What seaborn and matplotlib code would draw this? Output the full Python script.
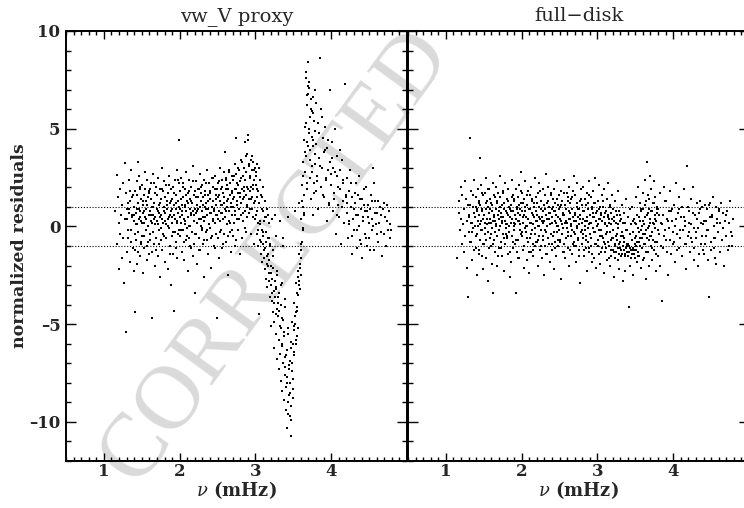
import matplotlib
matplotlib.use("Agg")
import numpy as np
import pandas as pd
import seaborn as sns
import matplotlib.pyplot as plt
from matplotlib.ticker import MultipleLocator, FixedLocator, FuncFormatter

# Mode frequencies (mHz), shared by both fits -- first mode set
nu_mhz = [
    1.152, 1.168, 1.175, 1.186, 1.193, 1.204, 1.212, 1.219, 1.228, 1.236,
    1.243, 1.251, 1.258, 1.266, 1.274, 1.281, 1.289, 1.296, 1.303, 1.311,
    1.318, 1.326, 1.333, 1.341, 1.349, 1.356, 1.364, 1.372, 1.381, 1.392,
    1.401, 1.405, 1.410, 1.416, 1.420, 1.425, 1.431, 1.436, 1.440, 1.446,
    1.451, 1.455, 1.460, 1.466, 1.471, 1.475, 1.480, 1.486, 1.490, 1.495,
    1.501, 1.505, 1.510, 1.515, 1.521, 1.525, 1.530, 1.535, 1.540, 1.546,
    1.550, 1.555, 1.561, 1.565, 1.570, 1.576, 1.580, 1.585, 1.590, 1.596,
    1.600, 1.605, 1.611, 1.615, 1.620, 1.625, 1.631, 1.635, 1.640, 1.646,
    1.650, 1.655, 1.660, 1.666, 1.670, 1.675, 1.681, 1.685, 1.690, 1.695,
    1.701, 1.705, 1.710, 1.716, 1.720, 1.725, 1.730, 1.736, 1.740, 1.745,
    1.751, 1.755, 1.760, 1.766, 1.770, 1.775, 1.780, 1.786, 1.790, 1.795,
    1.800, 1.806, 1.810, 1.815, 1.821, 1.825, 1.830, 1.835, 1.841, 1.845,
    1.850, 1.856, 1.860, 1.865, 1.870, 1.876, 1.880, 1.885, 1.891, 1.895,
    1.900, 1.905, 1.911, 1.915, 1.920, 1.926, 1.930, 1.935, 1.940, 1.946,
    1.950, 1.955, 1.961, 1.965, 1.970, 1.975, 1.981, 1.985, 1.990, 1.996,
    2.001, 2.006, 2.010, 2.015, 2.021, 2.025, 2.030, 2.036, 2.040, 2.045,
    2.050, 2.055, 2.061, 2.065, 2.070, 2.076, 2.080, 2.085, 2.090, 2.095,
    2.100, 2.106, 2.110, 2.115, 2.121, 2.125, 2.130, 2.135, 2.141, 2.145,
    2.150, 2.155, 2.160, 2.166, 2.170, 2.175, 2.181, 2.185, 2.190, 2.195,
    2.200, 2.205, 2.211, 2.215, 2.220, 2.226, 2.230, 2.235, 2.240, 2.245,
    2.250, 2.256, 2.260, 2.265, 2.271, 2.275, 2.280, 2.285, 2.291, 2.295,
    2.300, 2.305, 2.310, 2.316, 2.320, 2.325, 2.331, 2.335, 2.340, 2.345,
    2.350, 2.355, 2.361, 2.365, 2.370, 2.376, 2.380, 2.385, 2.390, 2.395,
    2.400, 2.406, 2.410, 2.415, 2.421, 2.425, 2.430, 2.435, 2.441, 2.445,
    2.450, 2.455, 2.460, 2.466, 2.470, 2.475, 2.481, 2.485, 2.490, 2.495,
    2.500, 2.505, 2.511, 2.515, 2.520, 2.526, 2.530, 2.535, 2.540, 2.545,
    2.550, 2.556, 2.560, 2.565, 2.571, 2.575, 2.580, 2.585, 2.591, 2.595,
    2.600, 2.605, 2.610, 2.616, 2.620, 2.625, 2.631, 2.635, 2.640, 2.645,
    2.650, 2.655, 2.661, 2.665, 2.670, 2.676, 2.680, 2.685, 2.690, 2.695,
    2.700, 2.706, 2.710, 2.715, 2.721, 2.725, 2.730, 2.735, 2.741, 2.745,
    2.750, 2.755, 2.760, 2.766, 2.770, 2.775, 2.781, 2.785, 2.790, 2.795,
    2.800, 2.805, 2.811, 2.815, 2.820, 2.826, 2.830, 2.835, 2.840, 2.845,
    2.850, 2.856, 2.860, 2.865, 2.871, 2.875, 2.880, 2.885, 2.891, 2.895,
    2.900, 2.905, 2.910, 2.916, 2.920, 2.925, 2.931, 2.935, 2.940, 2.945,
    2.950, 2.955, 2.961, 2.965, 2.970, 2.976, 2.980, 2.985, 2.990, 2.996,
    3.001, 3.006, 3.010, 3.015, 3.021, 3.025, 3.030, 3.036, 3.040, 3.045,
    3.050, 3.055, 3.061, 3.065, 3.070, 3.075, 3.081, 3.085, 3.090, 3.095,
    3.100, 3.106, 3.110, 3.115, 3.120, 3.126, 3.130, 3.135, 3.141, 3.145,
    3.150, 3.155, 3.160, 3.166, 3.170, 3.175, 3.181, 3.185, 3.190, 3.195,
    3.200, 3.205, 3.211, 3.215, 3.220, 3.226, 3.230, 3.235, 3.240, 3.245,
    3.250, 3.256, 3.260, 3.265, 3.271, 3.275, 3.280, 3.285, 3.291, 3.295,
    3.300, 3.305, 3.310, 3.316, 3.320, 3.325, 3.331, 3.335, 3.340, 3.345,
    3.350, 3.355, 3.361, 3.365, 3.370, 3.376, 3.380, 3.385, 3.390, 3.395,
    3.400, 3.405, 3.410, 3.415, 3.421, 3.425, 3.430, 3.436, 3.440, 3.445,
    3.450, 3.456, 3.460, 3.465, 3.470, 3.475, 3.481, 3.485, 3.490, 3.495,
    3.500, 3.505, 3.511, 3.515, 3.520, 3.526, 3.530, 3.535, 3.540, 3.545,
    3.550, 3.555, 3.560, 3.566, 3.570, 3.575, 3.581, 3.585, 3.590, 3.595,
    3.600, 3.606, 3.610, 3.615, 3.621, 3.625, 3.630, 3.635, 3.641, 3.645,
    3.650, 3.655, 3.661, 3.665, 3.670, 3.676, 3.680, 3.685, 3.690, 3.695,
    3.700, 3.706, 3.710, 3.715, 3.721, 3.725, 3.730, 3.735, 3.741, 3.745,
    3.750, 3.756, 3.760, 3.765, 3.771, 3.775, 3.780, 3.785, 3.791, 3.795,
    3.802, 3.811, 3.819, 3.830, 3.838, 3.851, 3.859, 3.868, 3.880, 3.889,
    3.901, 3.909, 3.920, 3.928, 3.941, 3.950, 3.958, 3.969, 3.981, 3.990,
    4.003, 4.011, 4.022, 4.030, 4.041, 4.049, 4.060, 4.071, 4.079, 4.091,
    4.100, 4.112, 4.120, 4.131, 4.139, 4.150, 4.162, 4.170, 4.181, 4.190,
    4.202, 4.210, 4.221, 4.232, 4.240, 4.251, 4.259, 4.271, 4.280, 4.291,
    4.300, 4.312, 4.321, 4.329, 4.341, 4.350, 4.361, 4.369, 4.380, 4.392,
    4.401, 4.410, 4.422, 4.431, 4.440, 4.452, 4.460, 4.471, 4.480, 4.491,
    4.502, 4.511, 4.520, 4.532, 4.541, 4.550, 4.561, 4.569, 4.580, 4.590,
    4.603, 4.611, 4.622, 4.630, 4.642, 4.651, 4.660, 4.672, 4.681, 4.690,
    4.703, 4.712, 4.721, 4.733, 4.741, 4.752, 4.760, 4.771, 4.780, 4.789,
]

# second mode set (mHz)
nu_mhz_b = [
    1.303, 1.312, 1.324, 1.333, 1.345, 1.353, 1.366, 1.374, 1.385, 1.397,
    1.403, 1.414, 1.423, 1.435, 1.443, 1.456, 1.464, 1.477, 1.483, 1.494,
    1.507, 1.513, 1.527, 1.534, 1.542, 1.557, 1.563, 1.574, 1.587, 1.593,
    1.604, 1.617, 1.623, 1.636, 1.644, 1.653, 1.667, 1.672, 1.684, 1.697,
    1.703, 1.714, 1.727, 1.733, 1.746, 1.752, 1.764, 1.773, 1.787, 1.794,
    1.806, 1.813, 1.824, 1.837, 1.843, 1.854, 1.867, 1.873, 1.884, 1.896,
    1.904, 1.916, 1.923, 1.934, 1.947, 1.953, 1.964, 1.976, 1.983, 1.994,
    2.007, 2.013, 2.024, 2.036, 2.043, 2.057, 2.064, 2.073, 2.086, 2.093,
    2.104, 2.117, 2.123, 2.134, 2.146, 2.153, 2.167, 2.174, 2.183, 2.196,
    2.203, 2.214, 2.227, 2.233, 2.244, 2.256, 2.263, 2.277, 2.284, 2.293,
    2.306, 2.313, 2.324, 2.337, 2.343, 2.354, 2.366, 2.373, 2.387, 2.394,
    2.404, 2.417, 2.423, 2.436, 2.444, 2.453, 2.467, 2.474, 2.483, 2.497,
    2.503, 2.516, 2.524, 2.533, 2.547, 2.554, 2.563, 2.576, 2.584, 2.593,
    2.607, 2.614, 2.623, 2.636, 2.643, 2.657, 2.664, 2.673, 2.687, 2.694,
    2.703, 2.716, 2.724, 2.733, 2.747, 2.754, 2.763, 2.776, 2.784, 2.797,
    2.803, 2.814, 2.826, 2.833, 2.847, 2.853, 2.864, 2.877, 2.883, 2.894,
    2.907, 2.913, 2.926, 2.934, 2.943, 2.956, 2.963, 2.974, 2.986, 2.993,
    3.004, 3.016, 3.023, 3.037, 3.044, 3.053, 3.066, 3.074, 3.083, 3.097,
    3.103, 3.114, 3.127, 3.133, 3.146, 3.154, 3.163, 3.177, 3.184, 3.193,
    3.206, 3.213, 3.224, 3.237, 3.243, 3.254, 3.267, 3.273, 3.286, 3.294,
    3.303, 3.317, 3.324, 3.333, 3.346, 3.353, 3.364, 3.377, 3.384, 3.396,
    3.404, 3.413, 3.427, 3.434, 3.443, 3.456, 3.463, 3.474, 3.487, 3.493,
    3.506, 3.514, 3.523, 3.536, 3.544, 3.553, 3.567, 3.574, 3.583, 3.596,
    3.603, 3.617, 3.624, 3.633, 3.646, 3.654, 3.663, 3.677, 3.684, 3.693,
    3.707, 3.713, 3.726, 3.734, 3.743, 3.757, 3.764, 3.773, 3.786, 3.794,
    3.815, 3.834, 3.856, 3.874, 3.893, 3.915, 3.936, 3.954, 3.975, 3.996,
    4.016, 4.035, 4.054, 4.077, 4.095, 4.114, 4.136, 4.157, 4.175, 4.196,
    4.214, 4.237, 4.256, 4.275, 4.294, 4.316, 4.335, 4.357, 4.374, 4.396,
    4.415, 4.436, 4.454, 4.476, 4.497, 4.516, 4.535, 4.557, 4.576, 4.598,
]

# Normalized residuals of the fit to the vw_V proxy spectra (first mode set)
resid_vw = [
    0.8, 2.65, -0.9, 1.5, 0.2, -2.2, 1.9, -0.4, 0.6, -1.6,
    1.1, -0.6, 2.2, -2.9, 3.27, 0.4, -5.4, 1.7, -1.3, 0.9,
    -0.2, 2.4, 0.7, -1.8, 1.3, 2.9, -0.8, 0.5, 1.6, -2.3,
    0.6, -1.2, -4.4, 1.8, 0.1, -0.7, 2.3, 0.9, -1.9, 3.3,
    1.2, -0.3, 0.4, 2.6, -1.5, 0.8, 1.9, -0.9, 0.3, 1.4,
    -0.5, 2.1, 0.7, -2.4, 1.1, 0.2, 1.6, -1.1, 2.8, 0.5,
    1.3, -0.2, 0.9, -1.7, 2.4, 0.0, 1.5, -0.8, 0.6, 1.8,
    -1.4, 0.8, 1.9, -0.4, 0.3, 2.2, -1.3, 1.0, -4.7, 0.6,
    2.7, -0.9, 1.2, 0.4, -2.0, 1.7, 0.1, 2.0, -0.6, 0.9,
    0.3, 1.6, -1.5, 2.5, 0.8, -0.2, 1.1, -2.6, 1.9, 0.5,
    -0.7, 1.4, 0.6, 3.0, -1.2, 0.2, 1.8, -0.4, 1.0, 2.3,
    0.7, -1.8, 1.5, 0.1, 2.1, -0.6, 0.9, 1.3, -2.2, 0.4,
    1.7, -0.1, 2.6, 0.5, -1.0, 1.2, -3.0, 0.8, 1.9, -0.5,
    0.2, 1.4, -1.4, 2.0, 0.6, -4.3, 1.1, -0.3, 2.4, 0.9,
    -0.8, 1.6, 0.3, 2.9, -1.6, 0.7, 1.3, -0.2, 2.2, 4.4,
    0.9, -0.5, 1.8, 0.2, 2.5, -1.3, 1.1, 0.6, -0.2, 1.5,
    2.2, 0.4, -1.7, 1.0, 0.1, 1.9, -0.7, 2.8, 0.8, -0.1,
    1.3, -2.3, 0.5, 1.7, -0.6, 2.4, 0.9, 0.0, 1.4, -1.1,
    0.6, 2.0, -0.3, 1.2, 3.1, -1.5, 0.8, 1.6, -0.9, 0.3,
    1.8, -3.4, 0.7, 2.3, -0.4, 1.1, 0.2, -1.9, 1.5, 0.9,
    -0.6, 1.9, 0.4, 2.7, -1.2, 1.3, 0.0, 1.7, -0.2, 2.1,
    0.8, -0.9, 1.5, 0.3, 2.4, -2.6, 1.0, 0.5, 1.8, -0.3,
    1.2, 2.9, -0.7, 0.6, 1.6, -1.4, 0.9, 2.2, 0.1, 1.4,
    -0.1, 1.7, 0.7, -2.1, 2.5, 1.0, -0.5, 1.3, 0.4, 2.0,
    0.9, -1.0, 1.9, 0.2, 2.6, 1.1, -0.4, 1.6, -4.7, 0.6,
    1.5, -0.6, 2.2, 0.8, -1.6, 1.3, 3.0, 0.3, 1.9, -0.2,
    0.7, 2.4, 1.1, -1.1, 1.7, 0.4, 2.8, -0.4, 1.2, 3.8,
    0.5, 1.9, -0.8, 2.5, 1.0, 0.1, 2.1, -2.5, 1.4, 0.8,
    2.9, 0.3, 1.6, -0.3, 2.2, 1.2, -1.3, 1.8, 0.6, 2.6,
    1.0, -0.5, 2.4, 1.5, 0.2, 3.2, 0.8, -1.0, 1.9, 2.7,
    4.5, 1.3, 0.4, 2.1, -0.2, 1.7, 2.9, 0.9, -1.4, 1.5,
    2.3, 0.6, 3.4, 1.2, -0.6, 1.9, 2.6, 0.3, 1.4, 3.0,
    1.8, 4.3, 0.8, 2.4, -0.3, 1.6, 3.6, 1.1, 2.0, 0.5,
    4.7, 4.4, 1.4, 3.1, 0.7, 2.6, 1.8, 3.4, -0.4, 2.0,
    1.5, 2.9, 0.9, 3.3, 1.9, -0.9, 2.4, 1.2, 3.0, 0.4,
    2.1, 0.6, 2.8, -0.4, 1.5, 3.2, 0.2, 1.8, -1.0, -4.5,
    1.2, -0.7, 2.4, 0.1, -1.4, 1.6, -0.2, 0.9, -1.8, 2.0,
    -0.9, 0.8, -1.6, 0.3, -2.2, 1.3, -1.1, -0.3, -2.7, 0.5,
    -1.5, -3.1, 0.6, -2.0, -0.6, -2.8, 0.2, -1.7, -3.6, -0.9,
    -2.4, -5.1, -3.0, 0.4, -3.8, -2.1, -4.4, -1.2, -3.3, -6.2,
    -4.9, -2.8, -3.6, -0.5, -5.5, -3.1, -4.2, -6.8, -2.5, -3.9,
    -4.6, -7.3, -3.4, -5.8, 0.3, -6.5, -4.0, -7.9, -5.2, -2.9,
    -6.1, -8.4, -4.8, -7.0, -0.6, -5.6, -8.9, -6.7, -3.7, -7.6,
    -8.2, -9.4, -6.3, -7.7, -10.3, -5.5, -9.0, 0.5, -8.6, -7.1,
    -9.7, -6.9, -8.0, -5.9, -10.7, -9.2, -7.4, -4.9, -8.8, -6.0,
    -7.8, -5.3, -6.6, -3.9, -5.0, 0.8, -4.4, -6.0, -2.9, -5.6,
    -4.1, -2.3, -5.2, -3.5, -1.4, -2.8, 1.2, -3.2, -1.9, -2.5,
    -1.6, 0.4, -0.8, 2.1, 1.0, -0.2, 3.3, 1.6, 4.4, 0.7,
    2.8, 5.1, 7.6, 3.6, 7.9, 1.9, 6.2, 4.3, 7.2, 8.4,
    6.8, 4.8, 7.4, 2.5, 5.6, 3.9, 6.5, 1.4, 4.6, 5.9,
    3.1, 6.6, 4.1, 0.6, 5.4, 2.2, 7.0, 3.7, 4.9, 1.8,
    4.2, 2.6, 5.3, 0.9, 3.5, 8.6, 2.0, 6.0, 3.0, 4.5,
    1.5, 3.8, 5.1, 2.4, 0.3, 4.0, 2.9, 1.2, 7.0, 3.3,
    2.1, 4.3, 0.8, 3.0, 1.7, 5.0, -0.4, 2.6, 3.6, 1.1,
    0.5, 2.9, 1.9, -0.9, 3.4, 1.3, 2.2, 0.2, 7.3, 1.6,
    2.5, 0.7, -0.6, 1.8, 0.1, 2.9, 1.0, -1.4, 1.5, 0.4,
    -0.2, 1.2, 2.2, 0.6, -1.1, 1.6, 0.0, 2.6, -0.7, 0.9,
    1.4, -1.6, 0.3, 1.9, -0.4, 0.8, 2.0, -1.0, 0.5, 1.1,
    -0.6, 0.9, 1.6, -0.2, 0.4, 3.0, 2.2, -1.2, 1.3, 0.1,
    0.7, 1.3, -0.8, 0.2, 1.0, -0.3, 0.6, -1.5, 0.9, 1.2,
    -0.4, 0.5, -1.0, 1.1, 0.3, -0.2, 0.8, -0.6, 0.1, -0.2,
]

# vw_V proxy residuals (second mode set)
resid_vw_b = [
    0.4, 1.2, -0.6, 0.9, 1.8, -0.2, 0.6, 1.5, -1.1, 0.3,
    1.0, -0.4, 0.7, 1.6, 0.1, -1.3, 0.9, 2.0, 0.5, -0.8,
    0.2, 1.3, -0.5, 0.8, 1.9, 0.4, -1.0, 1.1, 0.0, 1.7,
    -0.7, 0.6, 1.4, 0.2, -0.3, 1.0, 2.2, 0.5, -1.2, 0.9,
    1.6, 0.1, -0.9, 0.7, 1.2, -0.1, 0.4, 1.9, 0.8, -0.5,
    0.3, 1.5, -0.6, 1.1, 0.0, 2.1, 0.6, -1.4, 1.3, 0.5,
    0.9, -0.3, 1.7, 0.4, -1.1, 1.2, 0.2, 2.4, -0.4, 1.0,
    0.5, 1.4, -0.2, 0.8, 2.0, -0.8, 1.1, 0.3, 1.6, -0.5,
    1.2, 0.0, 1.8, -1.0, 0.7, 1.3, -0.3, 2.3, 0.6, 0.9,
    -0.4, 1.5, 0.8, 0.2, 1.9, -1.2, 1.0, 0.4, 2.0, -0.1,
    1.1, 0.5, -0.7, 1.6, 0.9, 2.2, -0.2, 1.3, 0.1, 0.7,
    1.8, -0.6, 1.0, 0.3, 2.5, 0.8, -1.1, 1.4, 0.6, 1.9,
    0.4, 1.6, 2.3, -0.3, 1.1, 0.7, 2.0, -0.9, 1.5, 0.9,
    2.4, 0.8, 1.3, -0.5, 1.9, 2.8, 0.2, 1.0, 1.7, -0.2,
    1.4, 2.6, 0.6, 1.9, -0.7, 2.2, 1.1, 3.0, 0.4, 1.7,
    2.5, 1.2, 3.3, 0.7, 2.0, 1.5, -0.1, 2.8, 1.0, 3.7,
    1.9, 3.2, 0.9, 2.5, 1.4, 3.6, 0.5, 2.1, 2.9, 1.3,
    2.6, 0.8, 1.9, -0.2, 3.0, 1.2, 0.3, -0.8, 1.5, -0.5,
    -0.3, -1.2, 0.5, -0.8, -1.9, 0.9, -1.4, -2.4, -0.6, -1.0,
    -2.0, -3.4, -2.7, -1.5, -3.9, 0.6, -3.2, -4.5, -2.3, -3.6,
    -3.9, -4.3, -5.1, -3.0, -6.0, -4.7, -1.0, -5.4, -7.2, -4.1,
    -6.6, -8.0, -5.2, -9.6, -7.3, -8.5, -6.2, -9.9, -7.0, -8.3,
    -6.4, -5.1, -4.6, -5.8, -3.4, -4.3, -2.6, -3.0, -2.1, -1.2,
    -0.9, 1.3, -0.1, 2.6, 0.6, 3.8, 5.3, 2.2, 6.7, 4.1,
    5.0, 7.1, 3.4, 6.0, 2.8, 4.4, 5.8, 1.7, 3.2, 6.3,
    2.3, 4.8, 3.1, 5.6, 1.6, 3.9, 2.5, 4.4, 1.1, 2.7,
    3.5, 1.4, 2.8, 0.6, 2.0, 3.9, 1.0, 2.4, 0.2, 1.5,
    1.2, 0.3, 2.2, -0.5, 0.9, 1.7, -0.2, 0.6, 1.4, -0.9,
    0.5, 1.1, -0.6, 0.8, 0.2, -1.2, 1.3, 0.0, 0.7, -0.4,
]

# Normalized residuals of the fit to the full-disk spectra (first mode set)
resid_fd = [
    -1.6, 0.7, 1.3, -0.2, 2.0, 0.4, -0.9, 1.6, 0.1, -1.3,
    0.9, 2.3, -0.5, 1.4, -2.1, 0.3, -3.6, 1.1, -0.3, 0.6,
    4.5, -0.8, 1.8, 0.2, -1.7, 1.0, -0.1, 2.4, 0.5, -1.1,
    1.5, -0.4, 0.8, -2.5, 1.9, 0.0, 0.6, -1.2, 1.2, 3.5,
    -0.7, 1.1, 0.3, 2.1, -1.5, 0.9, -0.2, 1.6, 0.4, -2.2,
    0.6, -0.9, 1.7, 0.2, -0.4, 2.5, 0.9, -1.6, 0.1, 1.3,
    -0.3, 1.0, -2.8, 0.7, 1.9, -0.6, 0.4, 1.4, -1.0, 0.2,
    1.2, -0.1, 0.8, -1.9, 2.2, -3.4, 0.5, 1.6, -0.7, 0.3,
    -1.3, 0.9, 0.1, 2.0, -0.5, 1.3, -2.0, 0.6, 1.7, -0.2,
    0.4, -1.1, 1.5, 0.0, 2.6, -0.8, 0.7, -1.5, 1.1, 0.2,
    1.8, -0.4, 0.5, -2.3, 1.2, 0.3, -0.9, 2.2, 0.8, -0.1,
    -0.6, 1.4, 0.1, 1.9, -1.4, 0.6, -0.3, 1.0, -2.6, 0.9,
    0.5, -1.8, 1.1, 0.2, 2.4, -0.5, 0.8, -1.1, 1.6, 0.0,
    -0.2, 1.3, -0.9, 0.6, 1.9, -3.4, 0.4, -1.3, 1.0, 0.7,
    1.5, -0.7, 0.3, 2.1, -1.6, 0.9, 0.1, -0.4, 1.2, 2.8,
    -0.5, 0.8, 1.7, -1.2, 0.2, 1.4, -2.1, 0.6, -0.1, 1.0,
    2.3, -0.3, 0.5, -1.7, 1.1, 0.0, 1.8, -0.8, 0.4, -2.4,
    0.9, 1.6, -0.6, 0.2, 2.0, -1.3, 0.7, -0.2, 1.3, -0.9,
    0.1, -1.5, 1.2, 0.5, -0.4, 2.5, -1.0, 0.8, 0.3, 1.5,
    -0.8, 0.6, -2.0, 1.7, 0.0, -0.5, 1.0, 2.2, -1.2, 0.4,
    1.3, -0.2, 0.9, -1.6, 0.5, 1.9, -0.7, 0.2, -2.5, 1.1,
    0.3, -1.0, 1.6, -0.3, 2.7, 0.6, -1.4, 1.2, 0.0, -0.6,
    2.0, 0.4, -0.9, 1.0, -1.8, 0.7, 0.1, 1.7, -0.4, 0.9,
    -1.2, 0.2, 1.4, -0.5, 0.8, -2.2, 1.9, 0.3, -0.8, 1.2,
    0.6, -1.5, 0.0, 2.3, -0.3, 1.1, -1.0, 0.5, 1.6, -0.2,
    1.0, -0.7, 0.4, -2.7, 1.8, 0.1, -0.4, 1.3, 0.7, -1.3,
    -0.1, 2.4, -0.9, 0.6, 1.1, -1.6, 0.3, 0.9, -0.6, 1.7,
    0.2, -1.1, 1.5, -0.3, 0.8, 2.0, -2.0, 0.4, 1.2, -0.5,
    1.4, 0.0, -1.4, 0.9, -0.2, 1.8, 0.5, -0.8, 2.6, -1.0,
    -0.4, 0.7, 1.6, -1.8, 0.3, -0.1, 1.0, 2.2, -0.7, 0.5,
    0.9, -1.2, 0.1, 1.3, -2.9, 0.6, -0.3, 1.9, 0.2, -0.9,
    1.1, 0.4, -0.6, 2.0, -1.5, 0.8, 0.0, -0.2, 1.4, -1.1,
    -0.5, 1.7, 0.3, -2.3, 0.9, -0.8, 1.2, 0.1, -1.3, 2.3,
    0.6, -0.4, 1.5, -1.0, 0.2, 1.0, -1.8, 0.7, -0.1, 1.8,
    -1.6, 0.5, -0.3, 1.2, 2.5, -0.9, 0.3, -2.1, 0.8, 0.0,
    1.3, -0.7, 0.1, -1.4, 0.9, 2.1, -0.5, 0.4, -1.9, 0.7,
    -0.2, 1.6, -1.1, 0.3, -0.6, 1.0, -2.4, 0.5, 1.9, -0.9,
    0.2, -1.3, 0.8, -0.4, 1.4, -1.7, 0.0, 2.2, -0.8, 0.6,
    -1.0, 0.4, -2.0, 1.1, -0.3, 0.7, -1.5, 0.1, 1.6, -0.6,
    0.9, -1.2, -0.2, -2.6, 0.5, -0.9, 1.3, -1.6, 0.2, -0.5,
    -1.3, 0.6, -0.7, 1.8, -1.1, -0.1, -2.2, 0.8, -1.4, 0.3,
    -0.8, -1.2, 0.4, -1.5, -0.3, 1.1, -1.0, -2.8, -0.5, 0.7,
    -1.2, -0.6, -1.4, 0.2, -2.3, -1.1, 1.4, -0.9, -1.3, -0.2,
    -1.5, 0.5, -4.1, -1.0, -1.3, 0.9, -0.4, -2.0, -1.2, 0.1,
    -0.7, -1.4, 1.0, -1.1, -0.3, -2.5, -1.2, 0.4, -0.9, -1.6,
    0.2, -1.0, 1.5, -0.5, -1.8, 0.6, -1.3, -0.1, 2.0, -0.8,
    -1.5, 0.3, -0.6, 1.2, -2.1, -0.2, 0.8, -1.1, 0.0, 1.7,
    -0.4, 0.9, -1.6, 0.1, 2.4, -0.9, 0.5, -2.7, 1.3, -0.2,
    3.3, -0.6, 0.7, -1.3, 1.6, 0.0, -2.0, 0.9, -0.5, 2.6,
    0.4, -1.0, 1.9, -0.3, 0.8, -1.7, 1.2, -0.7, 2.3, 0.1,
    -1.2, 0.6, -0.1, 1.5, -2.3, 0.3, 1.0, -0.8, 0.7, -1.5,
    0.9, -0.4, 1.7, -2.0, 0.2, -3.8, 0.6, -1.1, 2.0, -0.2,
    1.3, -0.7, 0.4, -2.5, 0.8, -0.1, 1.8, -1.4, 0.3, 0.9,
    -0.9, 1.1, 0.0, -1.8, 2.2, -0.4, 0.7, -1.1, 1.5, -0.6,
    0.5, -1.5, 1.0, -0.2, 1.9, -0.9, 0.3, -2.2, 3.1, -0.5,
    0.8, -0.3, -1.3, 1.4, 0.1, -0.8, 2.0, -0.1, -1.7, 0.6,
    -0.6, 1.2, -0.1, -2.0, 0.7, 1.3, -0.9, 0.2, 1.0, -1.2,
    0.3, -1.4, 1.1, -0.5, 0.9, -0.2, -1.7, -3.6, 0.5, 1.2,
    -0.8, 0.6, 1.5, -1.1, 0.0, -0.6, 1.0, -1.9, 0.4, -0.3,
    0.9, -1.3, 0.2, 1.2, -0.7, -0.1, 0.7, -2.0, 0.3, 0.6,
    -0.5, 0.8, -1.2, 0.2, -1.0, 1.3, -0.3, -0.5, -1.0, 0.4,
]

# full-disk residuals (second mode set)
resid_fd_b = [
    0.5, -0.8, 1.1, 0.2, -0.3, 1.6, -1.2, 0.7, 0.0, 1.0,
    -0.5, 0.9, 0.3, -1.4, 1.3, 0.1, -0.2, 0.8, 1.7, -0.9,
    0.6, -0.1, 1.2, -0.7, 0.4, 1.9, -1.1, 0.2, 0.9, -0.4,
    1.1, 0.3, -0.9, 0.6, 1.5, -0.3, 0.0, 1.2, -1.5, 0.8,
    -0.2, 1.0, 0.5, -1.1, 0.3, 1.7, -0.6, 0.9, 0.1, -0.4,
    0.7, -0.5, 1.3, 0.0, -1.3, 0.8, 0.4, 1.5, -0.8, 0.2,
    1.4, 0.1, -0.7, 0.9, 0.3, -1.6, 1.1, -0.2, 0.6, 1.8,
    -0.3, 0.5, 1.2, -1.0, 0.8, 0.0, 1.6, -0.6, 0.4, -1.3,
    0.9, -0.4, 0.2, 1.4, -1.2, 0.6, 1.0, -0.1, -0.8, 0.3,
    1.2, -0.7, 0.5, 0.0, 1.8, -1.0, 0.3, 0.8, -0.5, 1.1,
    -0.2, 0.9, -1.4, 0.4, 1.3, -0.6, 0.7, 0.1, 1.6, -0.9,
    0.5, 1.0, -0.3, -1.1, 0.8, 0.2, 1.4, -0.7, 0.0, 0.9,
    -0.8, 0.3, 1.1, -0.4, 0.6, 1.7, -1.3, 0.2, 0.9, -0.1,
    1.3, -0.5, 0.4, -1.2, 0.7, 0.1, 1.5, -0.9, 0.3, -0.3,
    0.6, -1.0, 1.2, 0.0, -0.6, 0.9, -1.5, 0.4, 1.4, -0.2,
    -0.4, 0.8, -1.2, 0.3, 1.1, -0.7, 0.5, -0.1, 1.6, -1.1,
    0.2, -0.6, 0.9, -1.4, 0.5, 1.2, -0.3, -0.9, 0.7, 0.0,
    -1.0, 0.4, -0.2, 1.0, -1.3, 0.6, -0.5, 1.3, -0.8, 0.1,
    0.7, -1.1, -0.3, 0.5, -1.6, 0.2, 1.0, -0.7, -1.2, 0.4,
    -0.6, -1.3, 0.3, -1.0, 0.8, -0.4, -1.7, 0.1, -0.9, 0.6,
    -1.1, -0.5, -1.4, 0.2, -1.2, -0.8, -1.5, -0.2, -1.0, -1.3,
    -0.9, -1.3, -0.4, -1.1, -1.6, -0.7, -1.2, 0.3, -1.4, -0.6,
    -1.2, 0.1, -0.8, -1.5, 0.5, -0.3, -1.0, 0.9, -0.6, -1.7,
    0.3, -0.9, 1.1, -0.4, -1.3, 0.6, -0.1, 1.4, -0.7, 0.2,
    -0.5, 0.8, -1.1, 0.2, 1.2, -0.8, 0.4, -1.4, 0.9, -0.2,
    0.6, -1.0, 0.1, -0.5, 1.3, -1.3, 0.3, -0.7, 0.8, -0.3,
    -0.8, 0.4, -1.2, 0.9, -0.2, -1.5, 0.5, 0.0, -0.9, 1.0,
    0.2, -0.6, 0.7, -1.1, -0.3, 0.4, -1.4, 0.9, -0.5, 0.1,
    -0.9, 0.3, -0.2, 1.1, -1.2, 0.5, -0.6, -1.6, 0.2, 0.8,
]

panel_titles = ["vw_V proxy", "full\u2212disk"]
y_ticks = [-10, -5, 0, 5, 10]
x_ticks = [1, 2, 3, 4]
band_levels = [-1, 1]

nu_all = np.concatenate([nu_mhz, nu_mhz_b])
df = pd.DataFrame({
    "nu": np.concatenate([nu_all, nu_all]),
    "resid": np.concatenate([resid_vw, resid_vw_b, resid_fd, resid_fd_b]),
    "panel": [panel_titles[0]] * len(nu_all) + [panel_titles[1]] * len(nu_all),
})

sns.set_theme(style="ticks")
plt.rcParams["font.family"] = ["DejaVu Serif"]
plt.rcParams["mathtext.fontset"] = "dejavuserif"

W, H = 744, 508
fig = plt.figure(figsize=(W / 100, H / 100), dpi=100)
fig.patch.set_facecolor("white")

ax_w, ax_h = 341 / W, 430 / H
bottom = (H - 461) / H
axes = [fig.add_axes([66 / W, bottom, ax_w, ax_h]),
        fig.add_axes([408 / W, bottom, ax_w, ax_h])]

# faint diagonal stamp across the sheet, beneath the data
fig.text(276 / W, 1 - 256 / H, "CORRECTED", rotation=54, ha="center", va="center",
         rotation_mode="anchor", fontsize=65, color="#dadada",
         family="Liberation Serif", zorder=-5)

tick_fmt = FuncFormatter(lambda v, p: f"{int(round(v))}".replace("-", "\u2013"))

for ax, title in zip(axes, panel_titles):
    ax.set_facecolor("none")
    sub = df[df["panel"] == title]
    sns.scatterplot(data=sub, x="nu", y="resid", ax=ax, color="black",
                    marker="s", s=4.5, linewidth=0, legend=False, zorder=3)
    for lvl in band_levels:
        ax.axhline(lvl, color="black", lw=0.8, ls=(0, (1, 1.6)), zorder=2)
    ax.set_xlim(0.5, 5.0)
    ax.set_ylim(-12, 10)
    ax.xaxis.set_major_locator(FixedLocator(x_ticks))
    ax.xaxis.set_minor_locator(MultipleLocator(0.1))
    ax.yaxis.set_major_locator(FixedLocator(y_ticks))
    ax.yaxis.set_minor_locator(MultipleLocator(1))
    ax.yaxis.set_major_formatter(tick_fmt)
    ax.tick_params(which="both", direction="in", top=True, right=True,
                   color="black", width=1.0)
    ax.tick_params(axis="x", which="major", length=5.5, pad=1.5)
    ax.tick_params(axis="x", which="minor", length=3)
    ax.tick_params(axis="y", which="major", length=7.5, pad=4)
    ax.tick_params(axis="y", which="minor", length=3.8)
    for sp in ax.spines.values():
        sp.set_linewidth(1.4)
        sp.set_color("black")
    for lab in ax.get_xticklabels() + ax.get_yticklabels():
        lab.set_fontweight("bold")
        lab.set_fontsize(12)
    ax.set_title(title, fontsize=14, pad=7)
    ax.set_xlabel(r"$\nu$ (mHz)", fontsize=13, fontweight="bold")
    ax.xaxis.set_label_coords(0.5, -0.043)
    ax.set_ylabel("")

axes[0].set_ylabel("normalized residuals", fontsize=12.5, fontweight="bold")
axes[0].yaxis.set_label_coords(-0.112, 0.5)
axes[1].tick_params(axis="y", labelleft=False)

fig.savefig("out.png", dpi=100, facecolor="white")
